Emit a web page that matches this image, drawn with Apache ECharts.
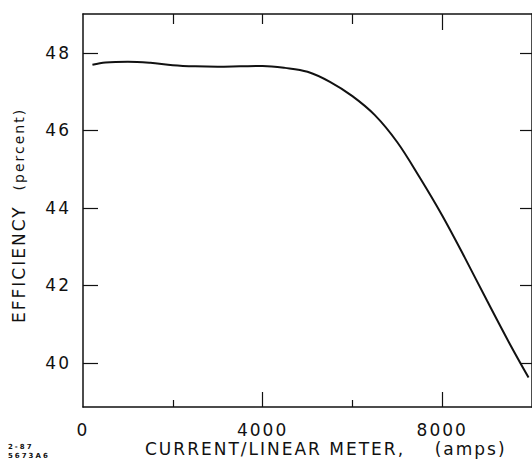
<!DOCTYPE html>
<html>
<head>
<meta charset="utf-8">
<script src="https://cdn.jsdelivr.net/npm/echarts@6/dist/echarts.min.js"></script>
<style>
html,body{margin:0;padding:0;background:#fff;}
#chart{width:532px;height:465px;}
#chart text{letter-spacing:2px;}
</style>
</head>
<body>
<div id="chart"></div>
<script>
// Data
const currentValues = [210, 500, 1000, 1500, 2000, 2500, 3000, 3500, 4000, 4500, 5000, 5500, 6000, 6500, 7000, 7500, 8000, 8500, 9000, 9500, 9923];
const efficiencyValues = [47.69, 47.75, 47.77, 47.74, 47.68, 47.65, 47.64, 47.65, 47.66, 47.61, 47.51, 47.25, 46.88, 46.39, 45.69, 44.78, 43.80, 42.72, 41.60, 40.50, 39.62];
const xLabelTicks = [0, 4000, 8000];
const xMinorTicks = [2000, 6000];
const xTopTicks = [2000, 4000, 6000];
const xTopLongTicks = [8000];
const yTicks = [40, 42, 44, 46, 48];
const xTitle = 'CURRENT/LINEAR METER,    (amps)';
const yTitleMain = 'EFFICIENCY';
const yTitleUnit = '(percent)';
const noteLine1 = '2-87';
const noteLine2 = '5673A6';

const points = currentValues.map((x, i) => [x, efficiencyValues[i]]);
const ink = '#111';
const font = 'DejaVu Sans';

const chart = echarts.init(document.getElementById('chart'), null, {renderer: 'svg'});
const baseX = {type: 'value', min: 0, max: 10000, splitLine: {show: false}};
chart.setOption({
  animation: false,
  backgroundColor: '#fff',
  grid: {left: 83, right: -3, top: 14, bottom: 58, containLabel: false},
  xAxis: [
    Object.assign({}, baseX, {
      position: 'bottom',
      axisLine: {show: true, onZero: false, lineStyle: {color: ink, width: 1.5}},
      axisTick: {show: true, inside: true, length: 15, customValues: [4000, 8000], lineStyle: {color: ink, width: 1.2}},
      axisLabel: {show: true, customValues: xLabelTicks, formatter: v => String(v), margin: 14, color: ink, fontFamily: font, fontSize: 17}
    }),
    Object.assign({}, baseX, {
      position: 'bottom',
      axisLine: {show: false, onZero: false},
      axisTick: {show: true, inside: true, length: 7, customValues: xMinorTicks, lineStyle: {color: ink, width: 1.2}},
      axisLabel: {show: false}
    }),
    Object.assign({}, baseX, {
      position: 'top',
      axisLine: {show: true, onZero: false, lineStyle: {color: ink, width: 1.5}},
      axisTick: {show: true, inside: true, length: 10, customValues: xTopTicks, lineStyle: {color: ink, width: 1.2}},
      axisLabel: {show: false}
    }),
    Object.assign({}, baseX, {
      position: 'top',
      axisLine: {show: false, onZero: false},
      axisTick: {show: true, inside: true, length: 16, customValues: xTopLongTicks, lineStyle: {color: ink, width: 1.2}},
      axisLabel: {show: false}
    })
  ],
  yAxis: [
    {
      type: 'value', position: 'left', min: 38.86, max: 49.0,
      splitLine: {show: false},
      axisLine: {show: true, onZero: false, lineStyle: {color: ink, width: 1.5}},
      axisTick: {show: true, inside: true, length: 15, customValues: yTicks, lineStyle: {color: ink, width: 1.2}},
      axisLabel: {show: true, customValues: yTicks, formatter: v => String(v), margin: 12, color: ink, fontFamily: font, fontSize: 17}
    },
    {
      type: 'value', position: 'right', min: 38.86, max: 49.0,
      splitLine: {show: false},
      axisLine: {show: true, onZero: false, lineStyle: {color: ink, width: 1.5}},
      axisTick: {show: true, inside: true, length: 12, customValues: yTicks, lineStyle: {color: ink, width: 1.2}},
      axisLabel: {show: false}
    }
  ],
  series: [{
    type: 'line',
    xAxisIndex: 0,
    yAxisIndex: 0,
    data: points,
    smooth: 0.35,
    showSymbol: false,
    lineStyle: {color: ink, width: 2}
  }],
  graphic: [
    {
      type: 'text', x: 145, y: 449,
      style: {text: xTitle, fill: ink, font: '17px "DejaVu Sans"', textAlign: 'left', textVerticalAlign: 'middle'}
    },
    {
      type: 'text', x: 19, y: 323, rotation: Math.PI / 2,
      style: {
        text: '{a|' + yTitleMain + '}{s| }{b|' + yTitleUnit + '}',
        fill: ink, textAlign: 'left', textVerticalAlign: 'middle',
        rich: {
          a: {fontSize: 17, fontFamily: font, fill: ink},
          s: {width: 35, fontSize: 14},
          b: {fontSize: 14, fontFamily: font, fill: ink}
        }
      }
    },
    {
      type: 'text', x: 8, y: 447,
      style: {text: noteLine1, fill: ink, font: 'bold 7px "DejaVu Sans"', textAlign: 'left', textVerticalAlign: 'middle'}
    },
    {
      type: 'text', x: 8, y: 456,
      style: {text: noteLine2, fill: ink, font: 'bold 7px "DejaVu Sans"', textAlign: 'left', textVerticalAlign: 'middle'}
    }
  ]
});
</script>
</body>
</html>
